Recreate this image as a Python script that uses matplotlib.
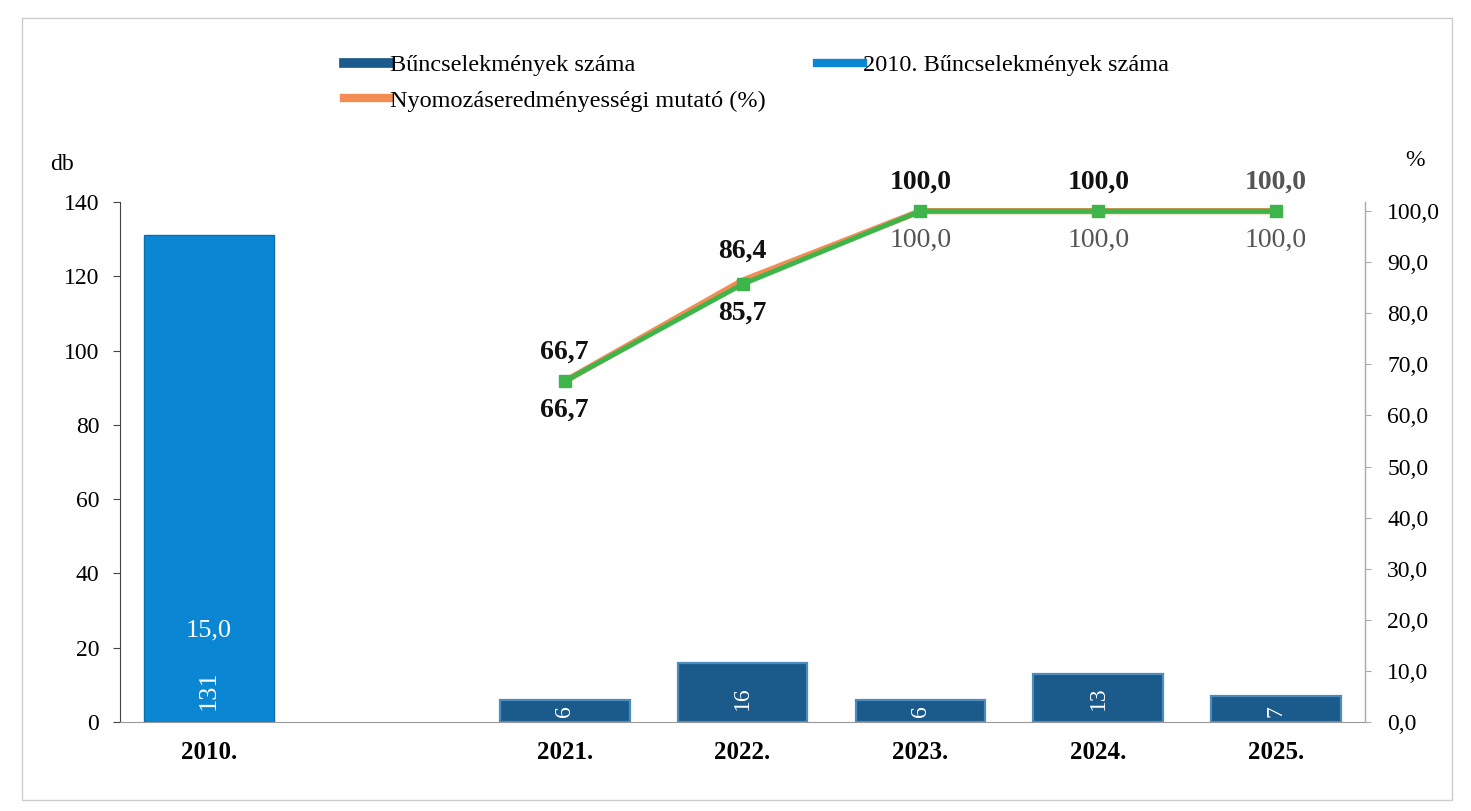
import matplotlib
matplotlib.use("Agg")
import matplotlib.pyplot as plt
from matplotlib.lines import Line2D
from matplotlib.patches import Rectangle

plt.rcParams['font.family'] = ['Liberation Serif', 'DejaVu Serif']

# data
years = ['2010.', '', '2021.', '2022.', '2023.', '2024.', '2025.']
crimes_2010 = 131
crimes = [6, 16, 6, 13, 7]          # 2021-2025
rate_2010 = 15.0
rate_prev = [66.7, 86.4, 100.0, 100.0, 100.0]   # orange series
rate_curr = [66.7, 85.7, 100.0, 100.0, 100.0]   # green series

pos = list(range(len(years)))
pos_recent = pos[2:]

fig = plt.figure(figsize=(14.71, 8.11), dpi=100)
ax = fig.add_axes([0.0816, 0.1097, 0.8464, 0.6413])
ax2 = ax.twinx()

# bars
ax.bar(pos[0], crimes_2010, width=0.73, color='#0b86d2', edgecolor='#0a6fb0', linewidth=1)
ax.bar(pos_recent, crimes, width=0.73, color='#1b5b8c', edgecolor='#4d8dbd', linewidth=1.6)

ax.text(pos[0], 8.5, str(crimes_2010), rotation=90, color='white', ha='center', va='center', fontsize=19)
for x, v in zip(pos_recent, crimes):
    ax.text(x, 3.0 if v < 10 else 6.5, str(v), rotation=90, color='white', ha='center', va='center', fontsize=17)

# lines
ax2.plot(pos_recent, rate_prev, color='#f28c52', linewidth=4.5, zorder=3)
ax2.plot(pos_recent, rate_curr, color='#3db54a', linewidth=3.5, marker='s', markersize=9, zorder=4)

fmt = lambda v: ('%.1f' % v).replace('.', ',')
prev_colors = ['#111111', '#111111', '#111111', '#111111', '#555555']
curr_colors = ['#111111', '#111111', '#555555', '#555555', '#555555']
for x, v, c in zip(pos_recent, rate_prev, prev_colors):
    ax2.annotate(fmt(v), (x, v), xytext=(0, 12), textcoords='offset points', ha='center', va='bottom',
                 fontsize=20, fontweight='bold', color=c)
for x, v, c in zip(pos_recent, rate_curr, curr_colors):
    ax2.annotate(fmt(v), (x, v), xytext=(0, -12), textcoords='offset points', ha='center', va='top',
                 fontsize=20, fontweight='bold' if c == '#111111' else 'normal', color=c)
ax2.annotate(fmt(rate_2010), (pos[0], rate_2010), xytext=(0, 3), textcoords='offset points',
             ha='center', va='bottom', fontsize=19, color='white')

# axes
ax.set_xlim(-0.5, len(years) - 0.5)
ax.set_ylim(0, 140)
ax.set_yticks(range(0, 141, 20))
ax2.set_ylim(0, 101.8)
ax2.set_yticks(range(0, 101, 10))
ax2.set_yticklabels([fmt(t) for t in range(0, 101, 10)])
ax.set_xticks(pos)
ax.set_xticklabels(years, fontsize=18, fontweight='bold')
ax.tick_params(axis='x', length=0, pad=14)
ax.tick_params(axis='y', labelsize=17, length=5, color='#444444', pad=10)
ax2.tick_params(axis='y', labelsize=17, length=4, color='#aaaaaa', pad=12)

for a in (ax, ax2):
    a.spines['top'].set_visible(False)
    a.patch.set_visible(False)
ax.spines['left'].set_color('#444444')
ax.spines['bottom'].set_color('#999999')
ax2.spines['right'].set_color('#aaaaaa')
ax2.spines['left'].set_visible(False)
ax2.spines['bottom'].set_visible(False)

fig.text(62 / 1471, 1 - 165 / 811, 'db', fontsize=17, ha='center', va='center')
fig.text(1415 / 1471, 1 - 160 / 811, '%', fontsize=17, ha='center', va='center')

# legend (filled column by column -> row 1: bars, 2010 bar; row 2: rate)
handles = [Line2D([], [], color='#1b5b8c', linewidth=7),
           Line2D([], [], color='#f28c52', linewidth=6),
           Line2D([], [], color='#0b86d2', linewidth=6)]
labels = ['Bűncselekmények száma', 'Nyomozáseredményességi mutató (%)', '2010. Bűncselekmények száma']
fig.legend(handles, labels, loc='upper left', bbox_to_anchor=(0.219, 0.96), ncol=2, frameon=False,
           fontsize=17.5, handlelength=1.9, handletextpad=0.0, columnspacing=2.1, labelspacing=0.55)

# light frame around the chart
fig.patches.append(Rectangle((22 / 1471, 1 - 800 / 811), 1430 / 1471, 782 / 811, transform=fig.transFigure,
                             fill=False, edgecolor='#cccccc', linewidth=1))

fig.savefig('out.png', dpi=100)
